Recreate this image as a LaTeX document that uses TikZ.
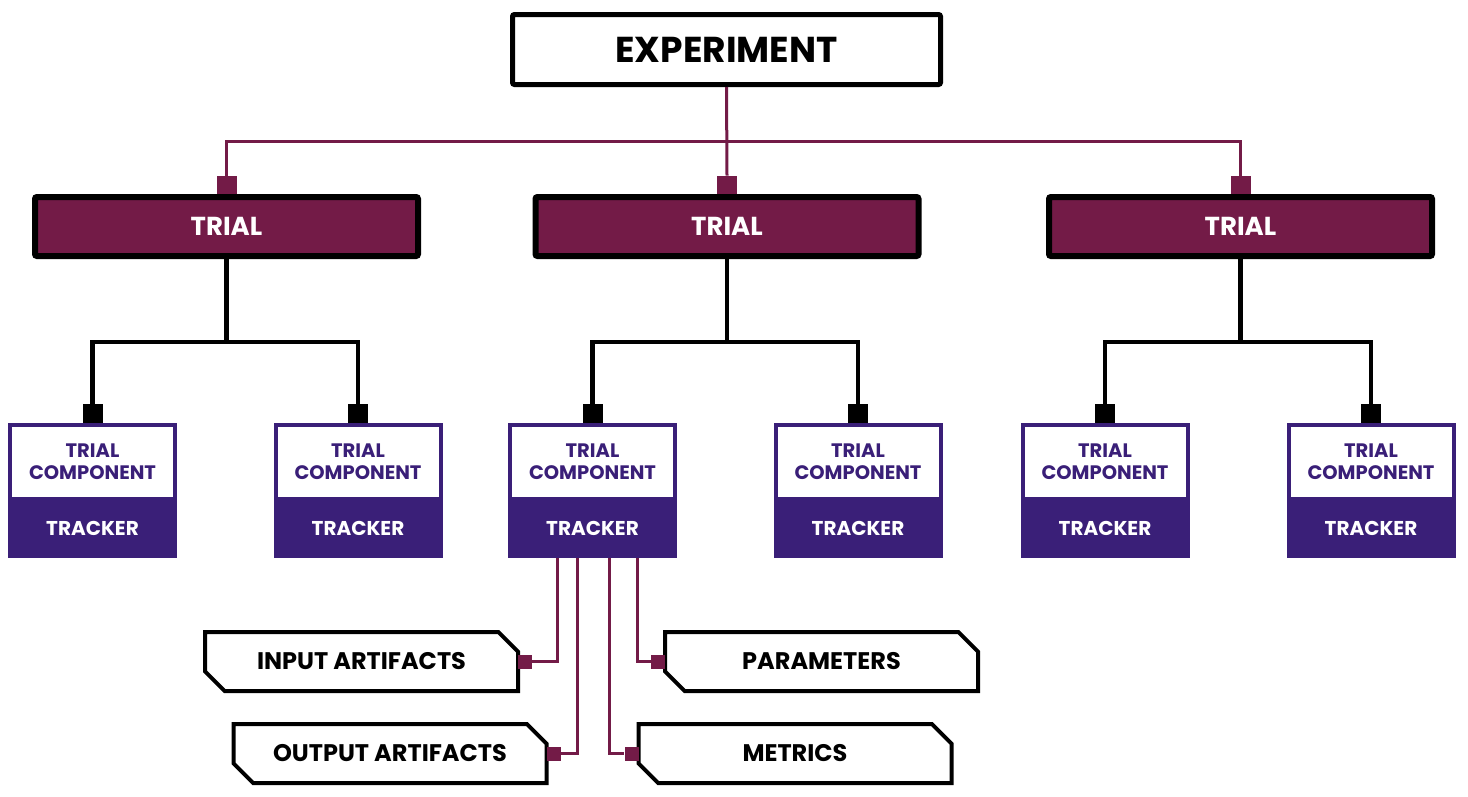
\documentclass[tikz,border=0pt]{standalone}
\usepackage{fontspec}
\setmainfont{Poppins}
\usetikzlibrary{shapes.misc,calc}
\definecolor{wine}{HTML}{731B47}
\definecolor{royal}{HTML}{3A1F78}
\begin{document}
\begin{tikzpicture}[x=1pt,y=-1pt,
  expbox/.style={draw=black,line width=5pt,fill=white,rounded corners=2pt,minimum width=428pt,minimum height=70pt,inner sep=0pt,font=\fontsize{36}{40}\selectfont\bfseries},
  trialbox/.style={draw=black,line width=6pt,fill=wine,rounded corners=2pt,minimum width=383pt,minimum height=59pt,inner sep=0pt,text=white,font=\fontsize{26}{30}\selectfont\bfseries},
  compbox/.style={draw=royal,line width=4pt,fill=white,minimum width=165pt,minimum height=74pt,inner sep=0pt,align=center,text=royal,font=\fontsize{19.5}{22}\selectfont\bfseries},
  trkbox/.style={draw=royal,fill=royal,line width=4pt,minimum width=165pt,minimum height=55pt,inner sep=0pt,text=white,font=\fontsize{20}{22}\selectfont\bfseries},
  artbox/.style={chamfered rectangle,chamfered rectangle corners={north east,south west},chamfered rectangle xsep=11pt,chamfered rectangle ysep=11pt,draw=black,line width=4pt,fill=white,minimum width=313pt,minimum height=59pt,inner sep=0pt,font=\fontsize{24}{28}\selectfont\bfseries},
  wmark/.style={fill=wine,minimum width=20pt,minimum height=18pt,inner sep=0pt},
  bmark/.style={fill=black,minimum width=20pt,minimum height=19pt,inner sep=0pt},
  smark/.style={fill=wine,minimum width=14pt,minimum height=14pt,inner sep=0pt},
  wline/.style={draw=wine,line width=3pt},
  bline/.style={draw=black,line width=4.5pt},
]
\useasboundingbox (0,0) rectangle (1468,796);
% experiment
\node[expbox] (exp) at (726.5,49.5) {EXPERIMENT};
% trials
\node[trialbox] (t1) at (226.5,226.5) {TRIAL};
\node[trialbox] (t2) at (727,226.5) {TRIAL};
\node[trialbox] (t3) at (1240.5,226.5) {TRIAL};
\node[wmark,anchor=south] (m1) at (t1.north) {};
\node[wmark,anchor=south] (m2) at (t2.north) {};
\node[wmark,anchor=south] (m3) at (t3.north) {};
\coordinate (bus) at (727,141);
\draw[wline] (exp.south) -- (m2.north);
\draw[wline] (m1.north) |- (bus) -| (m3.north);
% components
\foreach \i/\x in {1/92.5,2/358,3/592.5,4/858,5/1105,6/1371}{
  \node[compbox] (c\i) at (\x,462) {TRIAL\\COMPONENT};
  \node[trkbox,anchor=north] (k\i) at ([yshift=2pt]c\i.south) {TRACKER};
  \node[bmark,anchor=south] (b\i) at (c\i.north) {};
}
\foreach \t/\a/\b in {t1/b1/b2,t2/b3/b4,t3/b5/b6}{
  \coordinate (j\t) at (\t.south |- 0,342);
  \draw[bline] (\t.south) -- (j\t);
  \draw[bline] (\a.north) |- (j\t) -| (\b.north);
}
% artifacts
\node[artbox] (inp) at (361.5,661.5) {INPUT ARTIFACTS};
\node[artbox] (outp) at (390,753.5) {OUTPUT ARTIFACTS};
\node[artbox] (par) at (821.5,661.5) {PARAMETERS};
\node[artbox] (met) at (795,753.5) {METRICS};
\node[smark] (si) at ([xshift=5pt]inp.east) {};
\node[smark] (so) at ([xshift=5pt]outp.east) {};
\node[smark] (sp) at ([xshift=-5pt]par.west) {};
\node[smark] (sm) at ([xshift=-5pt]met.west) {};
\draw[wline] ([xshift=-35pt]k3.south) |- (si.east);
\draw[wline] ([xshift=-15pt]k3.south) |- (so.east);
\draw[wline] ([xshift=17pt]k3.south) |- (sm.west);
\draw[wline] ([xshift=45pt]k3.south) |- (sp.west);
\end{tikzpicture}
\end{document}
